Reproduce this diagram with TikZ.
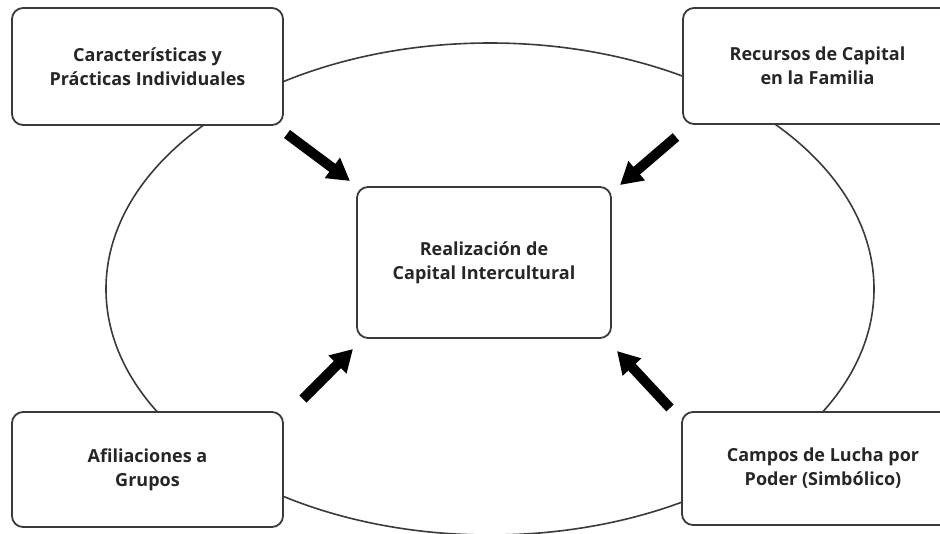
\documentclass[tikz,border=0pt]{standalone}
\usepackage{fontspec}
\setmainfont{Open Sans}
\usetikzlibrary{arrows.meta}
\definecolor{txt}{HTML}{262626}
\definecolor{edge}{HTML}{3A3A3A}
\begin{document}
\begin{tikzpicture}[x=1pt,y=-1pt,
  box/.style={draw=edge,line width=1.8pt,rounded corners=11pt,fill=white,align=center,
    font=\fontsize{18}{24}\selectfont\bfseries,text=txt,inner sep=0pt},
  bigarrow/.style={line width=10pt,-{Triangle[length=22pt,width=24pt]},black}]
\useasboundingbox (0,0) rectangle (940,533);
\begin{scope}
\clip (0,0) rectangle (940,533);
\draw[edge,line width=1.6pt] (490,289) ellipse [x radius=384, y radius=246];
\node[box,minimum width=271pt,minimum height=117pt] (tl) at (147.5,66.5) {Características y\\Prácticas Individuales};
\node[box,minimum width=269pt,minimum height=116pt] (tr) at (817.5,66) {Recursos de Capital\\en la Familia};
\node[box,minimum width=271pt,minimum height=115pt] (bl) at (147.5,469.5) {Afiliaciones a\\Grupos};
\node[box,minimum width=282pt,minimum height=113pt] (br) at (823,468.5) {Campos de Lucha por\\Poder (Simbólico)};
\node[box,minimum width=254pt,minimum height=151pt] (c) at (484,262.5) {Realización de\\Capital Intercultural};
\end{scope}
\coordinate (a1s) at (287,134); \coordinate (a1e) at (350,181);
\coordinate (a2s) at (676,137); \coordinate (a2e) at (620,185);
\coordinate (a3s) at (303,399); \coordinate (a3e) at (353,349);
\coordinate (a4s) at (670,408); \coordinate (a4e) at (617,351);
\draw[bigarrow] (a1s) -- (a1e);
\draw[bigarrow] (a2s) -- (a2e);
\draw[bigarrow] (a3s) -- (a3e);
\draw[bigarrow] (a4s) -- (a4e);
\end{tikzpicture}
\end{document}
